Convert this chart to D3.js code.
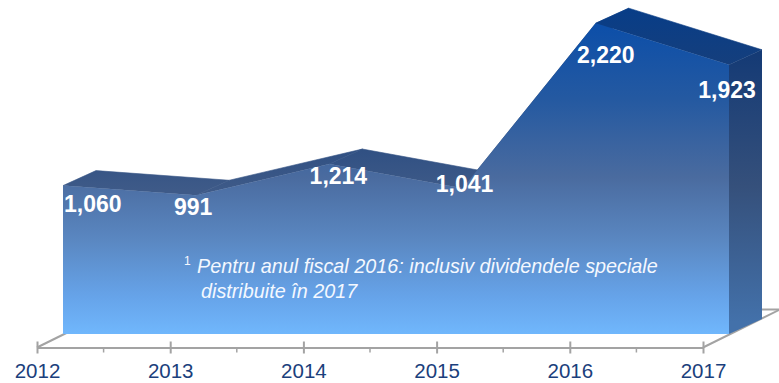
<!DOCTYPE html>
<html>
<head>
<meta charset="utf-8">
<script src="https://cdn.jsdelivr.net/npm/d3@7/dist/d3.min.js"></script>
<style>
  html, body { margin: 0; padding: 0; background: #ffffff; }
  svg { display: block; }
</style>
</head>
<body>
<svg id="chart" width="779" height="383"></svg>
<script>
// Dividends per fiscal year (millions)
const years = ["2012", "2013", "2014", "2015", "2016", "2017"];
const values = [1060, 991, 1214, 1041, 2220, 1923];
const valueLabels = ["1,060", "991", "1,214", "1,041", "2,220", "1,923"];
const footnoteMark = "1";
const footnoteLines = [
  "Pentru anul fiscal 2016: inclusiv dividendele speciale",
  "distribuite în 2017"
];

// ---- layout ----
const W = 779, H = 383;
const floorY = 347.5;              // front edge of the floor (category axis)
const axisLeft = 37, axisRight = 703;
const front = { dx: 26, dy: -13.5 };  // floor front edge -> area front face
const depth = { dx: 33, dy: -15 };    // area thickness
const floorDepth = { dx: 77, dy: -38 };
const baseY = floorY + front.dy;

// label nudges relative to each data point on the front face
const labelNudge = [
  { dx: 1, dy: 26, anchor: "start" },
  { dx: -3, dy: 20, anchor: "middle" },
  { dx: 9, dy: 20, anchor: "middle" },
  { dx: 2, dy: 4, anchor: "middle" },
  { dx: 10, dy: 40, anchor: "middle" },
  { dx: -2, dy: 33, anchor: "middle" }
];

const svg = d3.select("#chart");

const x = d3.scalePoint().domain(years).range([axisLeft, axisRight]);
const y = d3.scaleLinear().domain([0, 2500]).range([baseY, baseY - 2500 * 0.14]);

const defs = svg.append("defs");
function vGrad(id, y1, y2, stops) {
  const g = defs.append("linearGradient").attr("id", id)
    .attr("gradientUnits", "userSpaceOnUse")
    .attr("x1", 0).attr("x2", 0).attr("y1", y1).attr("y2", y2);
  stops.forEach(([o, c]) => g.append("stop").attr("offset", o).attr("stop-color", c));
}
vGrad("gFront", 20, baseY, [
  [0, "#0b4ea9"], [0.25, "#2459a1"], [0.5, "#4a6b9f"],
  [0.7, "#5a87c1"], [0.88, "#66a3e9"], [1, "#70b7fc"]
]);
vGrad("gTop", 5, 190, [
  [0, "#073d88"], [0.4, "#183f7a"], [1, "#3e5a88"]
]);
vGrad("gSide", 50, 322, [
  [0, "#143a75"], [0.5, "#35507b"], [1, "#4371aa"]
]);

// ---- floor ----
const floor = svg.append("g").attr("stroke", "#a3a3a3").attr("stroke-width", 2).attr("fill", "none");
floor.append("line")
  .attr("x1", axisLeft).attr("y1", floorY)
  .attr("x2", axisLeft + floorDepth.dx).attr("y2", floorY + floorDepth.dy);
floor.append("line")
  .attr("x1", axisRight).attr("y1", floorY)
  .attr("x2", axisRight + floorDepth.dx).attr("y2", floorY + floorDepth.dy);
floor.append("line")
  .attr("x1", axisLeft + floorDepth.dx).attr("y1", floorY + floorDepth.dy)
  .attr("x2", axisRight + floorDepth.dx).attr("y2", floorY + floorDepth.dy);

// ---- category axis ----
const axisG = svg.append("g")
  .attr("transform", `translate(0,${floorY})`)
  .call(d3.axisBottom(x).tickSize(6).tickSizeOuter(0));
axisG.select(".domain").attr("stroke", "#a3a3a3").attr("stroke-width", 2);
axisG.selectAll(".tick line").attr("stroke", "#a3a3a3").attr("stroke-width", 2).attr("y1", -6);
axisG.selectAll(".tick text")
  .attr("y", 30.5)
  .attr("dy", null)
  .attr("fill", "#1b3f7c")
  .attr("font-family", "'Liberation Sans', Arial, sans-serif")
  .attr("font-size", 20.5);
// minor ticks midway between categories
const step = x.step();
axisG.selectAll("line.minor")
  .data(years.slice(0, -1))
  .join("line").attr("class", "minor")
  .attr("x1", d => x(d) + step / 2).attr("x2", d => x(d) + step / 2)
  .attr("y1", 0).attr("y2", 5)
  .attr("stroke", "#a3a3a3").attr("stroke-width", 1.5);

// ---- 3D area ----
const pts = years.map((yr, i) => [x(yr) + front.dx, y(values[i])]);
const shift = p => [p[0] + depth.dx, p[1] + depth.dy];
const poly = arr => "M" + arr.map(p => p.join(",")).join("L") + "Z";
const area3d = svg.append("g");

// top faces, one per segment
const segs = d3.range(pts.length - 1).map(i => [pts[i], pts[i + 1], shift(pts[i + 1]), shift(pts[i])]);
area3d.selectAll("path.top").data(segs).join("path")
  .attr("class", "top")
  .attr("d", poly)
  .attr("fill", "url(#gTop)")
  .attr("stroke", "url(#gTop)").attr("stroke-width", 0.6).attr("stroke-linejoin", "round");

// right end face
const last = pts[pts.length - 1];
const lastBase = [last[0], baseY];
area3d.append("path")
  .attr("d", poly([last, shift(last), shift(lastBase), lastBase]))
  .attr("fill", "url(#gSide)");

// front face
const frontPoly = [[pts[0][0], baseY], ...pts, [last[0], baseY]];
area3d.append("path")
  .attr("d", poly(frontPoly))
  .attr("fill", "url(#gFront)");

// ---- value labels ----
svg.append("g")
  .selectAll("text").data(values).join("text")
  .attr("x", (v, i) => pts[i][0] + labelNudge[i].dx)
  .attr("y", (v, i) => y(v) + labelNudge[i].dy)
  .attr("text-anchor", (v, i) => labelNudge[i].anchor)
  .attr("fill", "#ffffff")
  .attr("font-family", "'Liberation Sans', Arial, sans-serif")
  .attr("font-weight", "bold")
  .attr("font-size", 23)
  .text((v, i) => valueLabels[i]);

// ---- footnote ----
const note = svg.append("g")
  .attr("fill", "#f4f8ff")
  .attr("font-family", "'Liberation Sans', Arial, sans-serif")
  .attr("font-style", "italic");
note.append("text")
  .attr("x", 184).attr("y", 265)
  .attr("font-size", 12).attr("font-style", "normal")
  .text(footnoteMark);
note.selectAll("text.line").data(footnoteLines).join("text")
  .attr("class", "line")
  .attr("x", (d, i) => i === 0 ? 197 : 201)
  .attr("y", (d, i) => 273 + i * 25)
  .attr("font-size", 19.8)
  .text(d => d);
</script>
</body>
</html>
